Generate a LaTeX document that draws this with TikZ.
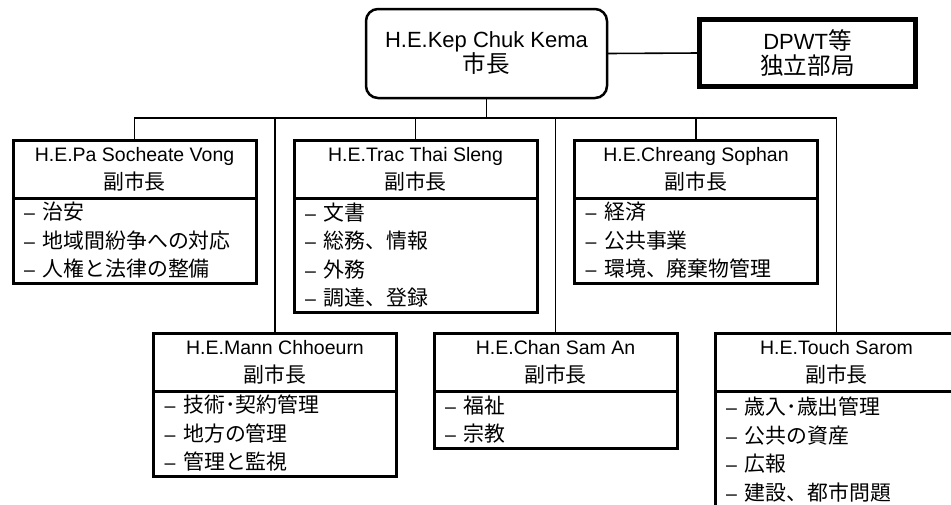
\documentclass[tikz,border=0pt]{standalone}
\usepackage{fontspec}
\setmainfont{Liberation Sans}
\newfontfamily\jp[Scale=1.07]{Noto Sans CJK JP}
\newcommand\itm[1]{–\hspace{8pt}{\jp #1}}
\begin{document}
\begin{tikzpicture}[x=1pt,y=-1pt,
  conn/.style={line width=1.6pt},
  hdr/.style={draw, line width=3pt, outer sep=0pt, minimum width=243pt, minimum height=58pt,
    anchor=north, align=center, inner sep=0pt, font=\fontsize{19.5}{28}\selectfont},
  lst/.style={draw, line width=3pt, outer sep=0pt, minimum width=243pt, anchor=north,
    align=left, text width=221pt, inner xsep=11pt, inner ysep=0pt,
    font=\fontsize{19.5}{28.5}\selectfont},
  topbox/.style={draw, align=center, outer sep=0pt, font=\fontsize{22}{25}\selectfont},
]
\useasboundingbox (0,0) rectangle (951,504);
\clip (0,0) rectangle (951,504);

% top level
\node[topbox, rounded corners=12pt, line width=2.5pt, minimum width=241pt, minimum height=89pt]
  (mayor) at (486.5,53.5) {H.E.Kep Chuk Kema\\{\jp 市長}};
\node[topbox, line width=5pt, minimum width=216pt, minimum height=67pt]
  (dpwt) at (807.5,53) {DPWT{\jp 等}\\{\jp 独立部局}};
\coordinate (bus) at (486.5,118);

% top row
\node[hdr] (pah) at (134.5,140) {H.E.Pa Socheate Vong\\{\jp 副市長}};
\node[lst, minimum height=85pt] (pal) at (pah.south)
  {\itm{治安}\\\itm{地域間紛争への対応}\\\itm{人権と法律の整備}};

\node[hdr] (trh) at (415.5,140) {H.E.Trac Thai Sleng\\{\jp 副市長}};
\node[lst, minimum height=114pt] (trl) at (trh.south)
  {\itm{文書}\\\itm{総務、情報}\\\itm{外務}\\\itm{調達、登録}};

\node[hdr] (chh) at (696,140) {H.E.Chreang Sophan\\{\jp 副市長}};
\node[lst, minimum height=85pt] (chl) at (chh.south)
  {\itm{経済}\\\itm{公共事業}\\\itm{環境、廃棄物管理}};

% bottom row
\node[hdr] (mah) at (275,333) {H.E.Mann Chhoeurn\\{\jp 副市長}};
\node[lst, minimum height=85pt] (mal) at (mah.south)
  {\itm{技術･契約管理}\\\itm{地方の管理}\\\itm{管理と監視}};

\node[hdr] (cah) at (555.5,333) {H.E.Chan Sam An\\{\jp 副市長}};
\node[lst, minimum height=57pt] (cal) at (cah.south)
  {\itm{福祉}\\\itm{宗教}};

\node[hdr] (tsh) at (836.5,333) {H.E.Touch Sarom\\{\jp 副市長}};
\node[lst, minimum height=117pt] (tsl) at (tsh.south)
  {\itm{歳入･歳出管理}\\\itm{公共の資産}\\\itm{広報}\\\itm{建設、都市問題}};

% connectors
\draw[conn] (mayor.east) -- (dpwt.west);
\foreach \n in {pah,trh,chh,mah,cah,tsh}
  \draw[conn] (mayor.south) -- (bus) -| (\n.north);
\end{tikzpicture}
\end{document}
